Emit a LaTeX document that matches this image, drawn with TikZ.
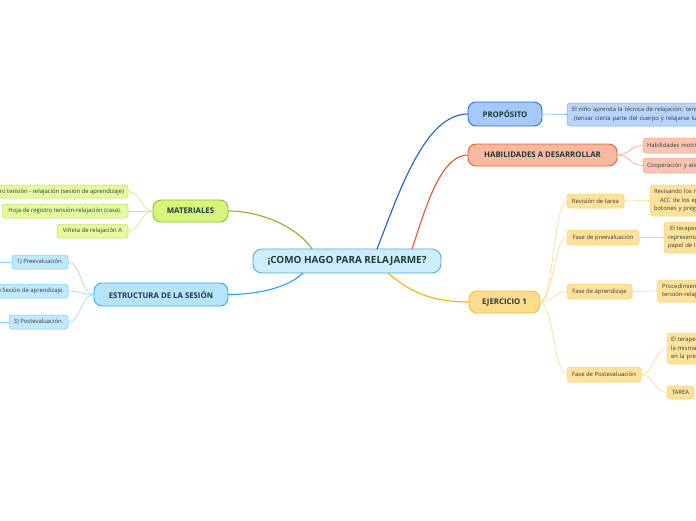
\documentclass[tikz,border=0pt]{standalone}
\usepackage{fontspec}
\setmainfont{Open Sans}
\definecolor{txtdark}{HTML}{1E3A38}
\definecolor{txtgray}{HTML}{3A3A3A}
\definecolor{cfill}{HTML}{CDEEFC}
\definecolor{cdraw}{HTML}{4AA8E0}
\definecolor{pfill}{HTML}{A4C8F8}
\definecolor{pdraw}{HTML}{2B6FD8}
\definecolor{pline}{HTML}{1A5FD0}
\definecolor{pcfill}{HTML}{B7D4FA}
\definecolor{pcdraw}{HTML}{7EAEF0}
\definecolor{hfill}{HTML}{F8B8A2}
\definecolor{hdraw}{HTML}{F05A2C}
\definecolor{hline}{HTML}{F0522A}
\definecolor{hcfill}{HTML}{F9C4B2}
\definecolor{hcdraw}{HTML}{F5A286}
\definecolor{efill}{HTML}{FDDC8F}
\definecolor{edraw}{HTML}{F9BE1E}
\definecolor{eline}{HTML}{F9B200}
\definecolor{ecfill}{HTML}{FDE29B}
\definecolor{ecdraw}{HTML}{FCD06A}
\definecolor{ecline}{HTML}{FDD884}
\definecolor{mfill}{HTML}{D5F57C}
\definecolor{mdraw}{HTML}{89C21C}
\definecolor{mline}{HTML}{86B81A}
\definecolor{mcfill}{HTML}{E4FA9F}
\definecolor{mcdraw}{HTML}{B7E356}
\definecolor{mcline}{HTML}{C8E87E}
\definecolor{sfill}{HTML}{B6E5FB}
\definecolor{sdraw}{HTML}{2CAFEA}
\definecolor{sline}{HTML}{1EA6EA}
\definecolor{scfill}{HTML}{BFE9FC}
\definecolor{scdraw}{HTML}{6FCDF4}
\definecolor{scline}{HTML}{8ED8F5}
\begin{document}
\begin{tikzpicture}[x=1pt,y=-1pt,
  every node/.style={inner sep=0pt, outer sep=0pt},
  central/.style={draw=cdraw, fill=cfill, line width=0.8pt, rounded corners=9pt,
    font=\fontsize{9.9}{11}\selectfont\bfseries, text=txtdark},
  topic/.style={draw, line width=0.9pt, rounded corners=8pt,
    font=\fontsize{7.8}{9}\selectfont\bfseries, text=txtdark},
  sub/.style={draw, line width=0.5pt, rounded corners=3pt,
    font=\fontsize{5.9}{8.3}\selectfont, text=txtgray},
  mainline/.style={line width=1.1pt},
  subline/.style={line width=0.6pt},
  cut/.style={sub, align=left, inner xsep=5pt, text width=160pt}
]
\clip (0,0) rectangle (696,520);

% central
\node[central, minimum width=188pt, minimum height=24pt] (c) at (347,261) {¡COMO HAGO PARA RELAJARME?};

% main topics
\node[topic, fill=pfill, draw=pdraw, minimum width=74pt, minimum height=24pt] (prop) at (505,114) {PROPÓSITO};
\node[topic, fill=hfill, draw=hdraw, minimum width=149pt, minimum height=22pt] (hab) at (542.5,155) {HABILIDADES A DESARROLLAR};
\node[topic, fill=efill, draw=edraw, minimum width=71pt, minimum height=22pt] (ej) at (504.5,302) {EJERCICIO 1};
\node[topic, fill=mfill, draw=mdraw, minimum width=75pt, minimum height=22pt] (mat) at (190.5,211) {MATERIALES};
\node[topic, fill=sfill, draw=sdraw, minimum width=134pt, minimum height=23pt] (est) at (161,294.5) {ESTRUCTURA DE LA SESIÓN};

% main branches
\draw[mainline, pline] ([xshift=30pt]c.north) .. controls (400,190) and (425,114) .. (prop.west);
\draw[mainline, hline] ([xshift=65pt]c.north) .. controls (425,210) and (440,155) .. (hab.west);
\draw[mainline, eline] ([xshift=41pt]c.south) .. controls (410,292) and (432,302) .. (ej.west);
\draw[mainline, mline] ([xshift=-35pt]c.north) .. controls (300,230) and (265,211) .. (mat.east);
\draw[mainline, sline] ([xshift=-44pt]c.south) .. controls (290,286) and (262,294.5) .. (est.east);

% PROPOSITO child
\node[cut, fill=pcfill, draw=pcdraw, anchor=west, minimum height=23pt] (pc) at (567,114.5)
  {El niño aprenda la técnica de relajación: tensar-relajar\\\hspace*{2pt}(tensar cierta parte del cuerpo y relajarse luego)};
\draw[subline, pcdraw] (prop.east) -- (pc.west);

% HABILIDADES children
\node[cut, fill=hcfill, draw=hcdraw, anchor=west, minimum height=15pt, inner xsep=4pt] (h1) at (643,145.5) {Habilidades motrices};
\node[cut, fill=hcfill, draw=hcdraw, anchor=west, minimum height=15pt, inner xsep=4pt] (h2) at (643,165.5) {Cooperación y atención};
\draw[subline, hcdraw] (hab.east) .. controls +(13,0) and +(-13,0) .. (h1.west);
\draw[subline, hcdraw] (hab.east) .. controls +(13,0) and +(-13,0) .. (h2.west);

% EJERCICIO children
\node[sub, fill=ecfill, draw=ecdraw, minimum width=57pt, minimum height=14pt] (e1) at (595.5,201) {Revisión de tarea};
\node[sub, fill=ecfill, draw=ecdraw, minimum width=72pt, minimum height=15pt] (e2) at (603,237.5) {Fase de preevaluación};
\node[sub, fill=ecfill, draw=ecdraw, minimum width=65pt, minimum height=15pt] (e3) at (599.5,291.5) {Fase de aprendizaje};
\node[sub, fill=ecfill, draw=ecdraw, minimum width=74pt, minimum height=15pt] (e4) at (604,374.5) {Fase de Postevaluación};
\foreach \n in {e1,e2,e3,e4}
  \draw[subline, ecline] (ej.east) .. controls +(13,0) and +(-13,0) .. (\n.west);

% EJERCICIO grandchildren
\node[cut, fill=ecfill, draw=ecdraw, anchor=west, minimum height=31pt, inner xsep=4pt] (g1) at (650,200.5)
  {Revisando los registros\\\hspace*{6pt}ACC de los episodios\\botones y preguntas};
\node[cut, fill=ecfill, draw=ecdraw, anchor=west, minimum height=31pt, inner xsep=4pt] (g2) at (664,237.5)
  {\hspace*{2pt}El terapeuta\\representa el\\papel de la mamá};
\node[cut, fill=ecfill, draw=ecdraw, anchor=west, minimum height=22pt, inner xsep=5pt] (g3) at (657,291)
  {Procedimiento de\\tensión-relajación};
\node[cut, fill=ecfill, draw=ecdraw, anchor=west, minimum height=31pt, inner xsep=4pt] (g4) at (667,348.5)
  {El terapeuta\\la misma\\en la presencia};
\node[sub, fill=ecfill, draw=ecdraw, minimum width=27pt, minimum height=13pt] (g5) at (680.5,392.5) {TAREA};
\draw[subline, ecline] (e1.east) -- (g1.west);
\draw[subline, ecline] (e2.east) -- (g2.west);
\draw[subline, ecline] (e3.east) -- (g3.west);
\draw[subline, ecline] (e4.east) .. controls +(13,0) and +(-13,0) .. (g4.west);
\draw[subline, ecline] (e4.east) .. controls +(13,0) and +(-13,0) .. (g5.west);

% MATERIALES children
\node[sub, fill=mcfill, draw=mcdraw, anchor=east, minimum height=13pt, inner xsep=4pt] (m1) at (128,191.5)
  {Hoja de registro tensión - relajación (sesión de aprendizaje)};
\node[sub, fill=mcfill, draw=mcdraw, anchor=east, minimum width=126pt, minimum height=14pt] (m2) at (128,211) {Hoja de registro tensión-relajación (casa).};
\node[sub, fill=mcfill, draw=mcdraw, anchor=east, minimum width=71pt, minimum height=14pt] (m3) at (128,231) {Viñeta de relajación A};
\foreach \n in {m1,m2,m3}
  \draw[subline, mcline] (mat.west) .. controls +(-13,0) and +(13,0) .. (\n.east);

% ESTRUCTURA children
\node[sub, fill=scfill, draw=scdraw, anchor=east, minimum width=56pt, minimum height=14pt] (s1) at (68,262) {1) Preevaluación.};
\node[sub, fill=scfill, draw=scdraw, anchor=east, minimum height=14pt, inner xsep=4pt] (s2) at (68,291) {2) Sesión de aprendizaje.};
\node[sub, fill=scfill, draw=scdraw, anchor=east, minimum width=59pt, minimum height=14pt] (s3) at (68,322) {3) Postevaluación.};
\foreach \n in {s1,s2,s3}
  \draw[subline, scline] (est.west) .. controls +(-13,0) and +(13,0) .. (\n.east);
\coordinate (s1off) at (0,262);
\coordinate (s3off) at (0,322);
\draw[subline, scline] (s1.west) -- (s1off);
\draw[subline, scline] (s3.west) -- (s3off);
\end{tikzpicture}
\end{document}
